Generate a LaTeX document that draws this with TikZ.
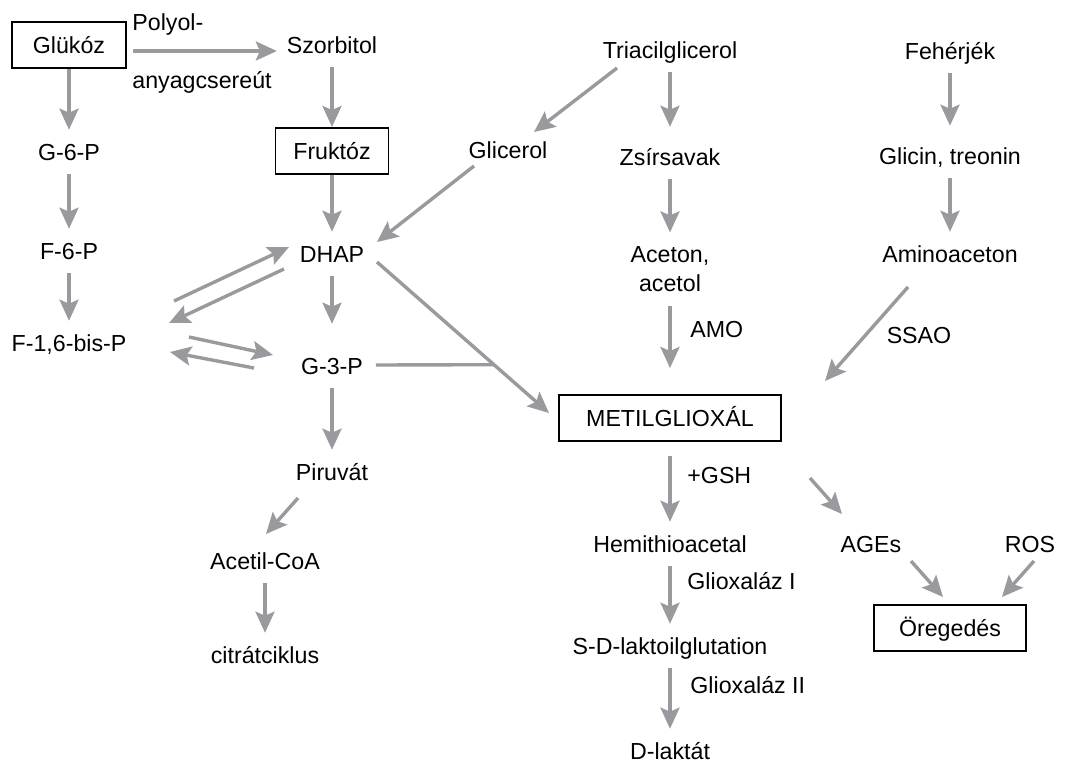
\documentclass[tikz,border=0pt]{standalone}
\usepackage{fontspec}
\setmainfont{Liberation Sans}
\usetikzlibrary{arrows.meta, calc}
\definecolor{arrgray}{RGB}{153,153,158}
\tikzset{
  txt/.style={inner sep=0pt, outer xsep=0pt, outer ysep=7pt, text height=8.3pt, text depth=0pt},
  twoline/.style={inner sep=0pt, outer xsep=0pt, outer ysep=7pt, align=center},
  lbl/.style={inner sep=0pt, anchor=west, text height=8.3pt, text depth=0pt},
  boxed/.style={draw, line width=0.7pt, inner sep=0pt, outer sep=0.5pt, minimum height=23pt, text height=8.3pt, text depth=0pt},
  gline/.style={draw=arrgray, line width=1.7pt},
  arr/.style={gline, -{Stealth[length=10.5pt, width=9.5pt, inset=2pt]}}
}

\begin{document}
\begin{tikzpicture}[x=0.5pt, y=-0.5pt, font=\fontsize{11.6}{14.5}\selectfont]
\useasboundingbox (0,0) rectangle (1073,762);

% glucose side
\node[boxed, minimum width=57pt] (glukoz) at (69,45) {Glükóz};
\node[txt] (szorbitol) at (332,45) {Szorbitol};
\node[lbl] (polyol) at (132,22) {Polyol-};
\node[lbl] (anyag) at (132,80) {anyagcsereút};
\node[boxed, minimum width=56.5pt] (fruktoz) at (332,151) {Fruktóz};
\node[txt] (g6p) at (69,152) {G-6-P};
\node[txt] (f6p) at (69,251) {F-6-P};
\node[txt] (f16bp) at (69,343) {F-1,6-bis-P};
\node[txt] (dhap) at (332,254) {DHAP};
\node[txt] (g3p) at (332,366) {G-3-P};
\node[txt] (piruvat) at (332,472) {Piruvát};
\node[txt] (acetil) at (265,561) {Acetil-CoA};
\node[txt] (citrat) at (265,655) {citrátciklus};

% lipids and proteins
\node[txt] (triacil) at (670,50) {Triacilglicerol};
\node[txt] (glicerol) at (508,150) {Glicerol};
\node[txt] (zsir) at (670,157) {Zsírsavak};
\node[twoline] (aceton) at (670,269) {Aceton,\\acetol};
\node[txt] (feherje) at (950,51) {Fehérjék};
\node[txt] (glicin) at (950,156) {Glicin, treonin};
\node[txt] (amino) at (950,254) {Aminoaceton};
\node[lbl] (amo) at (690,329) {AMO};
\node[txt] (ssao) at (919,335) {SSAO};

% methylglyoxal
\node[boxed, minimum width=111pt] (metil) at (670,418) {METILGLIOXÁL};
\node[lbl] (gsh) at (687,475) {+GSH};
\node[txt] (hemi) at (670,544) {Hemithioacetal};
\node[lbl] (gox1) at (687,581) {Glioxaláz I};
\node[txt] (sdl) at (670,646) {S-D-laktoilglutation};
\node[lbl] (gox2) at (690,685) {Glioxaláz II};
\node[txt] (dlakt) at (670,751) {D-laktát};
\node[txt] (ages) at (871,544) {AGEs};
\node[txt] (ros) at (1030,544) {ROS};
\node[boxed, minimum width=76pt] (oreg) at (950,628) {Öregedés};

\draw[arr] ($(glukoz.east)+(6,6)$) -- ($(szorbitol.west)+(-10,6)$);
\draw[arr] (glukoz) -- (g6p);
\draw[arr] (g6p) -- (f6p);
\draw[arr] (f6p) -- (f16bp);
\draw[arr] (szorbitol) -- (fruktoz);
\draw[arr] (fruktoz) -- (dhap);
\draw[arr, shorten >=10pt] (dhap) -- (g3p);
\draw[arr] (g3p) -- (piruvat);
\draw[arr] ($(piruvat)+(-34,26)$) -- ($(acetil)+(1,-27)$);
\draw[arr] (acetil) -- (citrat);

\draw[arr] ($(f16bp)+(105,-42)$) -- ($(dhap)+(-43,-7)$);
\draw[arr] ($(dhap)+(-48,15)$) -- ($(f16bp)+(100,-20)$);
\draw[arr] ($(f16bp)+(120,-6)$) -- ($(g3p)+(-59,-11)$);
\draw[arr] ($(g3p)+(-78,2)$) -- ($(f16bp)+(101,9)$);

\coordinate (dh) at ($(dhap)+(45,8)$);
\coordinate (mg) at ($(metil.west)+(-9,-5)$);
\draw[arr] (dh) -- (mg);
\draw[gline] ($(g3p.east)+(13,-1)$) -- ($(dh)!0.68!(mg)$);

\draw[arr] ($(triacil)+(-53,18)$) -- ($(glicerol)+(26,-18)$);
\draw[arr] ($(glicerol)+(-34,16)$) -- ($(dhap)+(45,-12)$);
\draw[arr, shorten >=4pt] (triacil) -- (zsir);
\draw[arr] (zsir) -- (aceton);
\draw[arr, shorten >=13pt] (aceton) -- (metil);
\draw[arr, shorten >=4pt] (feherje) -- (glicin);
\draw[arr] (glicin) -- (amino);
\draw[arr] ($(amino)+(-42,33)$) -- ($(metil.east)+(43,-37)$);

\draw[arr, shorten <=7pt] (metil) -- (hemi);
\draw[arr] (hemi) -- (sdl);
\draw[arr] (sdl) -- (dlakt);
\draw[arr] ($(metil)+(140,60)$) -- ($(ages)+(-29,-30)$);
\draw[arr] ($(ages)+(40,17)$) -- ($(oreg)+(-7,-31)$);
\draw[arr] ($(ros)+(4,17)$) -- ($(oreg)+(52,-31)$);

\end{tikzpicture}
\end{document}
